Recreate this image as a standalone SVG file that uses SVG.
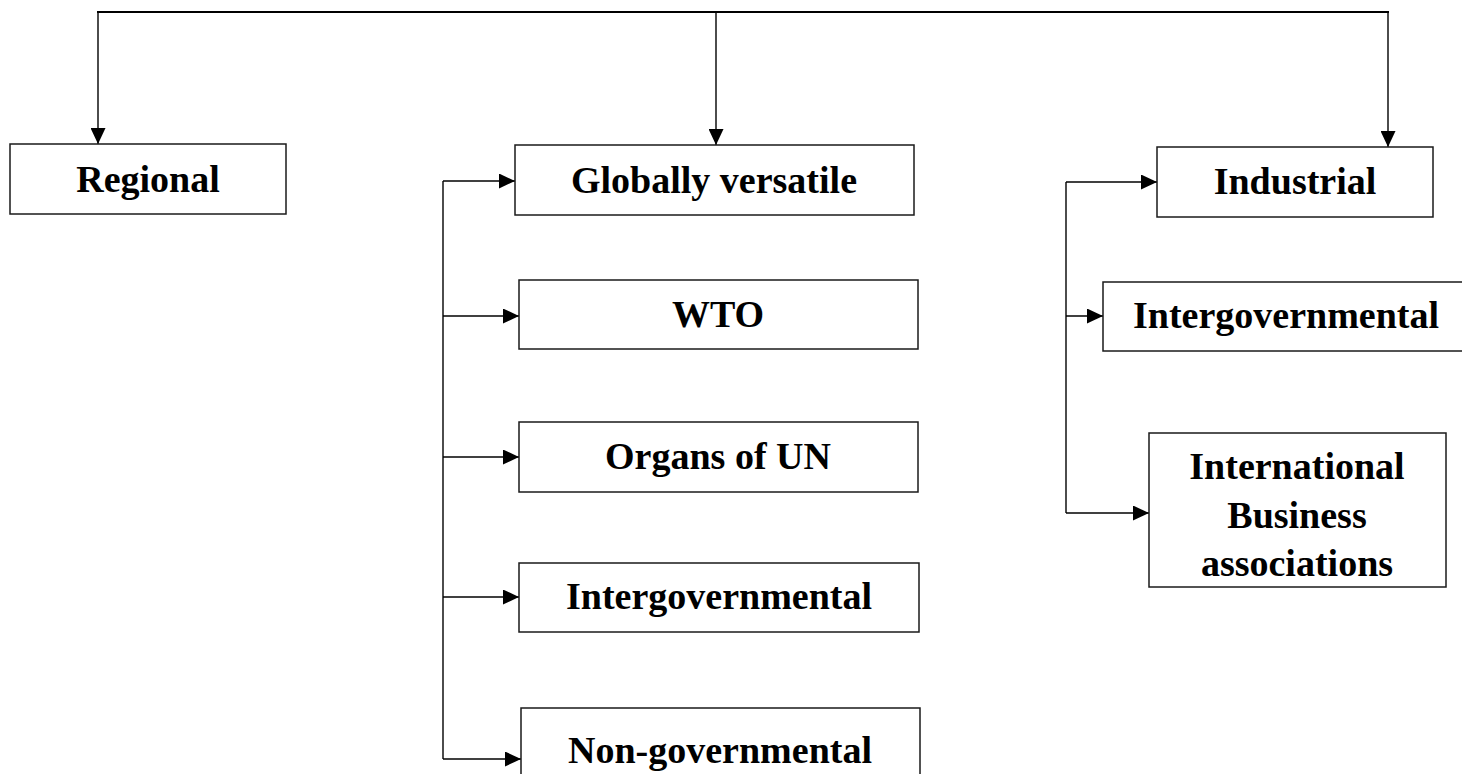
<svg xmlns="http://www.w3.org/2000/svg" width="1462" height="774" viewBox="0 0 1462 774">
<style>
.box{fill:#fff;stroke:#1a1a1a;stroke-width:1.5}
.lbl{font-family:"Liberation Serif","Times New Roman",serif;font-weight:bold;font-size:38px;fill:#000;text-anchor:middle}
.ln{fill:none;stroke:#000;stroke-width:1.4}
.top{fill:none;stroke:#000;stroke-width:2.2}
</style>
<defs>
<marker id="ah" markerUnits="userSpaceOnUse" markerWidth="17" markerHeight="15" refX="16" refY="7.5" orient="auto">
<path d="M0,0 L16,7.5 L0,15 z" fill="#000"/>
</marker>
</defs>
<rect width="1462" height="774" fill="#fff"/>
<g id="connectors">
<path class="top" d="M97,12 H1389"/>
<path class="ln" d="M98,12 V144" marker-end="url(#ah)"/>
<path class="ln" d="M716,12 V145" marker-end="url(#ah)"/>
<path class="ln" d="M1388,12 V147" marker-end="url(#ah)"/>
<path class="ln" d="M443,181 V759"/>
<path class="ln" d="M443,181 H515" marker-end="url(#ah)"/>
<path class="ln" d="M443,316 H519" marker-end="url(#ah)"/>
<path class="ln" d="M443,457 H519" marker-end="url(#ah)"/>
<path class="ln" d="M443,597 H519" marker-end="url(#ah)"/>
<path class="ln" d="M443,759 H521" marker-end="url(#ah)"/>
<path class="ln" d="M1066,182 V513"/>
<path class="ln" d="M1066,182 H1157" marker-end="url(#ah)"/>
<path class="ln" d="M1066,316 H1103" marker-end="url(#ah)"/>
<path class="ln" d="M1066,513 H1149" marker-end="url(#ah)"/>
</g>
<g id="regional">
<rect class="box" x="10" y="144" width="276" height="70"/>
<text class="lbl" x="148" y="192">Regional</text>
</g>
<g id="globally">
<rect class="box" x="515" y="145" width="399" height="70"/>
<text class="lbl" x="714" y="193">Globally versatile</text>
</g>
<g id="wto">
<rect class="box" x="519" y="280" width="399" height="69"/>
<text class="lbl" x="718" y="327">WTO</text>
</g>
<g id="organs">
<rect class="box" x="519" y="422" width="399" height="70"/>
<text class="lbl" x="718" y="469">Organs of UN</text>
</g>
<g id="intergov-mid">
<rect class="box" x="519" y="563" width="400" height="69"/>
<text class="lbl" x="719" y="609">Intergovernmental</text>
</g>
<g id="nongov">
<rect class="box" x="521" y="708" width="399" height="80"/>
<text class="lbl" x="720" y="763">Non-governmental</text>
</g>
<g id="industrial">
<rect class="box" x="1157" y="147" width="276" height="70"/>
<text class="lbl" x="1295" y="194">Industrial</text>
</g>
<g id="intergov-right">
<rect class="box" x="1103" y="282" width="366" height="69"/>
<text class="lbl" x="1286" y="328">Intergovernmental</text>
</g>
<g id="intl-business">
<rect class="box" x="1149" y="433" width="297" height="154"/>
<text class="lbl" x="1297" y="479">International</text>
<text class="lbl" x="1297" y="528">Business</text>
<text class="lbl" x="1297" y="576">associations</text>
</g>
</svg>
